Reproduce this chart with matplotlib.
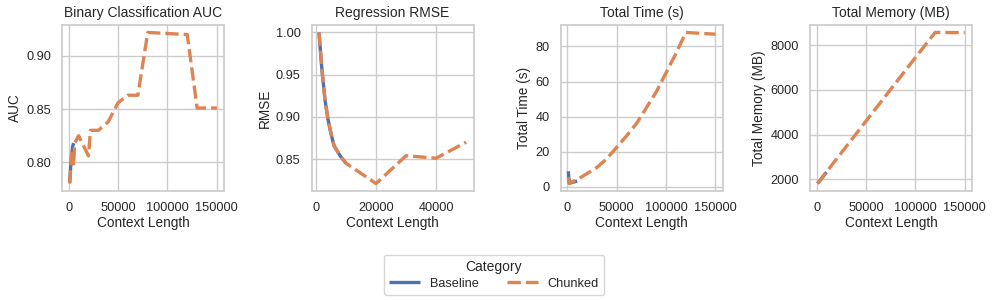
import matplotlib
matplotlib.use("Agg")
import matplotlib.pyplot as plt
import seaborn as sns

sns.set_theme(style="whitegrid")
plt.rcParams['font.family'] = ['Liberation Sans', 'DejaVu Sans']

categories = ["Baseline", "Chunked"]
colors = {"Baseline": "#4c72b0", "Chunked": "#dd8452"}

# AUC
auc_base_x = [1000, 2000, 4000, 5000]
auc_base_y = [0.781, 0.796, 0.815, 0.818]
auc_chunk_x = [1000, 3000, 5000, 6000, 10000, 20000, 22000, 30000, 40000, 50000,
               60000, 70000, 80000, 100000, 120000, 130000, 150000]
auc_chunk_y = [0.780, 0.812, 0.797, 0.818, 0.825, 0.806, 0.830, 0.830, 0.838, 0.856,
               0.863, 0.863, 0.922, 0.921, 0.920, 0.851, 0.851]

# RMSE
rmse_base_x = [1000, 2000, 3000, 4000, 5000, 6000, 8000, 10000]
rmse_base_y = [1.000, 0.955, 0.920, 0.897, 0.880, 0.866, 0.854, 0.845]
rmse_chunk_x = [1000, 2000, 3000, 4000, 5000, 6000, 8000, 10000, 20000, 30000, 40000, 50000]
rmse_chunk_y = [1.000, 0.955, 0.920, 0.897, 0.880, 0.866, 0.854, 0.845, 0.821, 0.854, 0.851, 0.870]

# Time
time_base_x = [1000, 2000, 4000, 8000, 10000]
time_base_y = [8.8, 2.0, 2.3, 2.9, 3.3]
time_chunk_x = [1000, 2000, 5000, 10000, 20000, 30000, 40000, 50000, 60000, 70000,
                80000, 90000, 100000, 110000, 120000, 150000]
time_chunk_y = [5.5, 1.8, 2.8, 4.0, 7.5, 11.0, 16.0, 22.5, 29.0, 36.0,
                45.0, 54.0, 65.0, 76.0, 88.0, 87.0]

# Memory
mem_base_x = [1000, 2000, 4000, 8000, 10000]
mem_base_y = [1800, 1860, 1970, 2200, 2310]
mem_chunk_x = [1000, 10000, 20000, 50000, 80000, 100000, 120000, 150000]
mem_chunk_y = [1800, 2320, 2890, 4600, 6310, 7450, 8580, 8570]

panels = [
    ("Binary Classification AUC", "AUC", (auc_base_x, auc_base_y), (auc_chunk_x, auc_chunk_y)),
    ("Regression RMSE", "RMSE", (rmse_base_x, rmse_base_y), (rmse_chunk_x, rmse_chunk_y)),
    ("Total Time (s)", "Total Time (s)", (time_base_x, time_base_y), (time_chunk_x, time_chunk_y)),
    ("Total Memory (MB)", "Total Memory (MB)", (mem_base_x, mem_base_y), (mem_chunk_x, mem_chunk_y)),
]

fig, axes = plt.subplots(1, 4, figsize=(9.96, 3.0), dpi=100)
fig.subplots_adjust(left=0.0626, right=0.976, bottom=0.363, top=0.917, wspace=0.54)

lw = 2.4
handles = []
for ax, (title, ylabel, base, chunk) in zip(axes, panels):
    hb, = ax.plot(base[0], base[1], color=colors["Baseline"], lw=lw, label="Baseline",
                  solid_capstyle="butt")
    hc, = ax.plot(chunk[0], chunk[1], color=colors["Chunked"], lw=lw, label="Chunked",
                  dashes=(4, 1.5), dash_capstyle="butt")
    ax.set_title(title, fontsize=10)
    ax.set_xlabel("Context Length", fontsize=9.8, labelpad=1)
    ax.set_ylabel(ylabel, fontsize=9.8, labelpad=3)
    ax.tick_params(labelsize=9.2, pad=2)
    for s in ax.spines.values():
        s.set_edgecolor("#cccccc")
    handles = [hb, hc]

leg = fig.legend(handles, categories, loc="upper center", bbox_to_anchor=(0.496, 0.172),
                 ncol=2, title="Category", fontsize=9.2, title_fontsize=10,
                 frameon=True, handlelength=2.4, columnspacing=2.2,
                 borderpad=0.4, labelspacing=0.3)

fig.savefig("out.png", dpi=100)
